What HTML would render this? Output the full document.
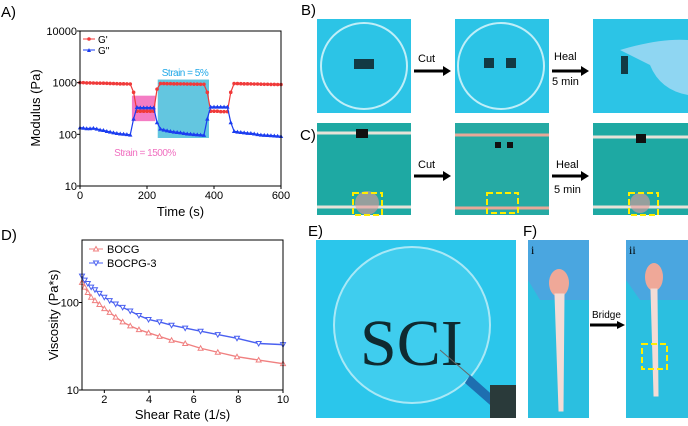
<!DOCTYPE html>
<html><head><meta charset="utf-8"><style>
body{margin:0;background:#fff;}
svg{display:block;font-family:"Liberation Sans",Arial,sans-serif;}
</style></head><body>
<svg id="fig" width="688" height="426" viewBox="0 0 688 426">
<g id="panelA"></g>
<g id="panelD"></g>
<!-- Panel labels -->
<text x="1" y="17" font-size="15">A)</text>
<text x="301" y="15" font-size="15">B)</text>
<text x="300" y="140" font-size="15">C)</text>
<text x="1" y="240" font-size="15">D)</text>
<text x="308" y="236" font-size="15">E)</text>
<text x="523" y="236" font-size="15">F)</text>

<!-- B photos -->
<g>
<rect x="317" y="19" width="94" height="94" fill="#2cc4e6"/>
<circle cx="364" cy="66" r="43" fill="none" stroke="#bfeef8" stroke-width="2"/>
<rect x="354" y="59" width="20" height="10" fill="#123a44"/></g>
<g>
<rect x="455" y="19" width="94" height="94" fill="#2cc4e6"/>
<circle cx="501" cy="66" r="43" fill="none" stroke="#bfeef8" stroke-width="2"/>
<rect x="484" y="58" width="10" height="10" fill="#123a44"/><rect x="506" y="58" width="10" height="10" fill="#123a44"/></g>
<g>
<rect x="593" y="19" width="95" height="94" fill="#2cc4e6"/>
<path d="M620 50 Q660 38 688 40 L688 95 Q660 90 650 65 Z" fill="#8fd6f2"/>
<rect x="621" y="56" width="7" height="18" fill="#123a44"/></g>
<!-- C photos -->
<g>
<rect x="317" y="123" width="94" height="92" fill="#1ea9a3"/>
<path d="M317 133 L411 133 M317 207 L411 207" stroke="#e8e2d8" stroke-width="3"/>
<rect x="356" y="129" width="12" height="9" fill="#111"/>
<circle cx="367" cy="203" r="12" fill="#e69a9a" opacity="0.6"/>
<rect x="353" y="193" width="29" height="22" fill="none" stroke="#ffee00" stroke-width="2" stroke-dasharray="6,3"/></g>
<g>
<rect x="455" y="123" width="94" height="92" fill="#26aaa4"/>
<path d="M455 135 L549 135 M455 208 L549 208" stroke="#e8a898" stroke-width="3"/>
<rect x="495" y="142" width="6" height="6" fill="#111"/><rect x="507" y="142" width="6" height="6" fill="#111"/>
<rect x="487" y="193" width="31" height="20" fill="none" stroke="#ffee00" stroke-width="2" stroke-dasharray="6,3"/></g>
<g>
<rect x="593" y="123" width="95" height="92" fill="#1ea9a3"/>
<path d="M593 137 L688 137 M593 207 L688 207" stroke="#e8e2d8" stroke-width="3"/>
<rect x="636" y="134" width="10" height="9" fill="#111"/>
<circle cx="640" cy="203" r="10" fill="#e69a9a" opacity="0.6"/>
<rect x="629" y="193" width="29" height="22" fill="none" stroke="#ffee00" stroke-width="2" stroke-dasharray="6,3"/></g>
<!-- arrows -->
<g font-size="11">
<text x="418" y="62">Cut</text>
<path d="M414 71 L443 71" stroke="#000" stroke-width="3"/><path d="M443 66 L451 71 L443 76Z"/>
<text x="554" y="60">Heal</text>
<path d="M552 71 L581 71" stroke="#000" stroke-width="3"/><path d="M581 66 L589 71 L581 76Z"/>
<text x="552" y="85">5 min</text>
<text x="418" y="168">Cut</text>
<path d="M414 176 L443 176" stroke="#000" stroke-width="3"/><path d="M443 171 L451 176 L443 181Z"/>
<text x="556" y="168">Heal</text>
<path d="M552 176 L581 176" stroke="#000" stroke-width="3"/><path d="M581 171 L589 176 L581 181Z"/>
<text x="554" y="193">5 min</text>
<text x="592" y="318" font-size="10">Bridge</text>
<path d="M590 325 L617 325" stroke="#000" stroke-width="3"/><path d="M617 321 L625 325 L617 329Z"/>
</g>
<!-- E photo -->
<g>
<rect x="316" y="240" width="200" height="178" fill="#2bc6eb"/>
<circle cx="412" cy="325" r="78" fill="#3fcdee" stroke="#a9e8f6" stroke-width="2"/>
<text x="360" y="365" font-family="Liberation Serif,serif" font-size="66" fill="#0f2a30">SCI</text>
<path d="M440 350 L475 380" stroke="#666" stroke-width="1"/>
<path d="M470 375 L515 415 L505 418 L465 383Z" fill="#1e6fb0"/>
<rect x="490" y="385" width="26" height="33" fill="#2a3a3a"/></g>
<!-- F photos -->
<g>
<rect x="528" y="240" width="61" height="178" fill="#2bbfe0"/>
<path d="M528 240 L589 240 L589 300 L540 300 L528 280Z" fill="#4aa6e0"/>
<ellipse cx="559" cy="283" rx="10" ry="14" fill="#efa898"/>
<path d="M556 295 L560 410 L562 410 L563 295Z" fill="#f3dcd6" stroke="#f3dcd6" stroke-width="3"/>
<text x="531" y="254" font-family="Liberation Serif,serif" font-size="12">i</text></g>
<g>
<rect x="626" y="240" width="62" height="178" fill="#2bbfe0"/>
<path d="M626 240 L688 240 L688 300 L640 300 L626 280Z" fill="#4aa6e0"/>
<ellipse cx="654" cy="277" rx="9" ry="14" fill="#efa898"/>
<path d="M652 290 L655 395 L657 395 L656 290Z" fill="#f3dcd6" stroke="#f3dcd6" stroke-width="3"/>
<rect x="642" y="344" width="25" height="25" fill="none" stroke="#ffee00" stroke-width="2" stroke-dasharray="6,3"/>
<text x="629" y="254" font-family="Liberation Serif,serif" font-size="12">ii</text></g>
</svg>
<script>
const NS="http://www.w3.org/2000/svg";
// ---- Panel A data ----
const timeS=[0,10,20,30,40,50,60,70,80,90,100,110,120,130,140,150,160,170,180,190,200,210,220,230,240,250,260,270,280,290,300,310,320,330,340,350,360,370,380,390,400,410,420,430,440,450,460,470,480,490,500,510,520,530,540,550,560,570,580,590,600];
const gPrime=[1000,1000,990,990,985,980,975,975,970,965,960,955,950,950,945,940,650,280,280,280,280,280,280,750,960,960,955,955,950,950,945,945,940,940,935,935,930,930,650,280,280,280,275,275,275,650,960,960,955,950,950,945,940,940,935,930,930,925,925,920,920];
const gDouble=[135,133,130,130,132,128,122,120,115,112,108,105,103,102,100,98,200,335,330,330,330,330,330,170,128,122,118,115,112,110,108,105,103,102,100,99,98,97,200,340,340,340,340,340,340,170,115,112,110,108,106,105,103,100,98,97,96,95,94,93,92];
const aXTicks=[0,200,400,600];
const aYTicks=[10,100,1000,10000];
// ---- Panel D data ----
const shearRate=[1,1.12,1.26,1.41,1.58,1.78,2,2.24,2.51,2.82,3.16,3.55,3.98,4.47,5.01,5.62,6.31,7.08,7.94,8.91,10];
const bocg=[170,150,130,115,105,95,85,77,68,60,54,49,45,41,37,34,30,27,24,22,20];
const bocpg=[200,180,165,150,140,127,115,105,96,88,80,71,64,60,55,51,47,43,39,34,33];
const dXTicks=[2,4,6,8,10];
const dYTicks=[10,100];

function el(tag,attrs,parent){const e=document.createElementNS(NS,tag);for(const k in attrs)e.setAttribute(k,attrs[k]);parent.appendChild(e);return e;}
function txt(s,attrs,parent){const e=el('text',attrs,parent);e.textContent=s;return e;}

// Panel A
(function(){
const g=document.getElementById('panelA');
const x0=80,x1=281,yTop=31,yBot=186;
const xA=v=>x0+(v-0)/600*(x1-x0);
const yA=v=>yBot-(Math.log10(v)-1)/3*(yBot-yTop);
// highlight boxes
let r=el('rect',{x:xA(155),y:yA(560),width:xA(225)-xA(155),height:yA(180)-yA(560),fill:'#f050b0',opacity:0.75},g);


r=el('rect',{x:xA(232),y:yA(1150),width:xA(385)-xA(232),height:yA(85)-yA(1150),fill:'#3cb8d8',opacity:0.8},g);


// series
function series(vals,color,name,tri){
 const pts=timeS.map((t,i)=>xA(t)+','+yA(vals[i])).join(' ');
 const l=el('polyline',{points:pts,fill:'none',stroke:color,'stroke-width':1.2},g);
 
 
 timeS.forEach((t,i)=>{
  const cx=xA(t),cy=yA(vals[i]);
  const m=tri?el('path',{d:`M${cx} ${cy-2.2}L${cx+2.2} ${cy+1.8}L${cx-2.2} ${cy+1.8}Z`,fill:color},g):el('circle',{cx:cx,cy:cy,r:1.8,fill:color},g);
  
  
 });
}
series(gPrime,'#f03a3a','g-prime',false);
series(gDouble,'#1a3cf0','g-double-prime',true);
// axes
el('rect',{x:x0,y:yTop,width:x1-x0,height:yBot-yTop,fill:'none',stroke:'#000','stroke-width':1},g);
aXTicks.forEach(v=>{el('line',{x1:xA(v),x2:xA(v),y1:yBot,y2:yBot+3,stroke:'#000'},g);
 const t=txt(String(v),{x:xA(v),y:yBot+13,'font-size':11,'text-anchor':'middle'},g);
 
 });
aYTicks.forEach(v=>{el('line',{x1:x0-3,x2:x0,y1:yA(v),y2:yA(v),stroke:'#000'},g);
 const t=txt(String(v),{x:x0-3,y:yA(v)+4,'font-size':11,'text-anchor':'end'},g);
 
 });
let t=txt('Time (s)',{x:(x0+x1)/2,y:216,'font-size':13,'text-anchor':'middle'},g);

t=txt('Modulus (Pa)',{x:0,y:0,'font-size':13,'text-anchor':'middle',transform:'translate(40,108) rotate(-90)'},g);

t=txt('Strain = 5%',{x:185,y:76,'font-size':10,fill:'#20a8e8','text-anchor':'middle','letter-spacing':'-0.5'},g);

t=txt('Strain = 1500%',{x:145,y:156,'font-size':10,fill:'#f070c0','text-anchor':'middle','letter-spacing':'-0.5'},g);

// legend
el('line',{x1:83,x2:95,y1:39,y2:39,stroke:'#f03a3a'},g);el('circle',{cx:89,cy:39,r:1.8,fill:'#f03a3a'},g);
t=txt("G'",{x:98,y:43,'font-size':10},g);
el('line',{x1:83,x2:95,y1:50,y2:50,stroke:'#1a3cf0'},g);el('path',{d:'M89 48L91 52L87 52Z',fill:'#1a3cf0'},g);
t=txt('G"',{x:98,y:54,'font-size':10},g);
})();

// Panel D
(function(){
const g=document.getElementById('panelD');
const x0=82,x1=283,yTop=240,yBot=390,dec=87.5;
const xD=v=>x0+(v-1)/9*(x1-x0);
const yD=v=>yBot-(Math.log10(v)-1)*dec;
function series(vals,color,name,up){
 const pts=shearRate.map((s,i)=>xD(s)+','+yD(vals[i])).join(' ');
 const l=el('polyline',{points:pts,fill:'none',stroke:color,'stroke-width':1.4},g);
 
 
 shearRate.forEach((s,i)=>{
  const cx=xD(s),cy=yD(vals[i]);
  const d=up?`M${cx} ${cy-2.5}L${cx+2.5} ${cy+2}L${cx-2.5} ${cy+2}Z`:`M${cx} ${cy+2.5}L${cx+2.5} ${cy-2}L${cx-2.5} ${cy-2}Z`;
  const m=el('path',{d:d,fill:'#fff',stroke:color,'stroke-width':1},g);
  
  
 });
}
series(bocg,'#f08080','bocg',true);
series(bocpg,'#4a60f0','bocpg-3',false);
el('rect',{x:x0,y:yTop,width:x1-x0,height:yBot-yTop,fill:'none',stroke:'#000','stroke-width':1},g);
dXTicks.forEach(v=>{el('line',{x1:xD(v),x2:xD(v),y1:yBot,y2:yBot+3,stroke:'#000'},g);
 const t=txt(String(v),{x:xD(v),y:yBot+13,'font-size':11,'text-anchor':'middle'},g);
 
 });
dYTicks.forEach(v=>{el('line',{x1:x0-3,x2:x0,y1:yD(v),y2:yD(v),stroke:'#000'},g);
 const t=txt(String(v),{x:x0-3,y:yD(v)+4,'font-size':11,'text-anchor':'end'},g);
 
 });
let t=txt('Shear Rate (1/s)',{x:(x0+x1)/2,y:419,'font-size':13,'text-anchor':'middle'},g);

t=txt('Viscosity (Pa*s)',{x:0,y:0,'font-size':13,'text-anchor':'middle',transform:'translate(58,315) rotate(-90)'},g);

el('line',{x1:89,x2:103,y1:249,y2:249,stroke:'#f08080'},g);el('path',{d:'M96 246.5L98.5 251L93.5 251Z',fill:'#fff',stroke:'#f08080'},g);
t=txt('BOCG',{x:107,y:253,'font-size':11},g);
el('line',{x1:89,x2:103,y1:263,y2:263,stroke:'#4a60f0'},g);el('path',{d:'M96 265.5L98.5 261L93.5 261Z',fill:'#fff',stroke:'#4a60f0'},g);
t=txt('BOCPG-3',{x:107,y:267,'font-size':11},g);
})();
</script>
</body></html>
